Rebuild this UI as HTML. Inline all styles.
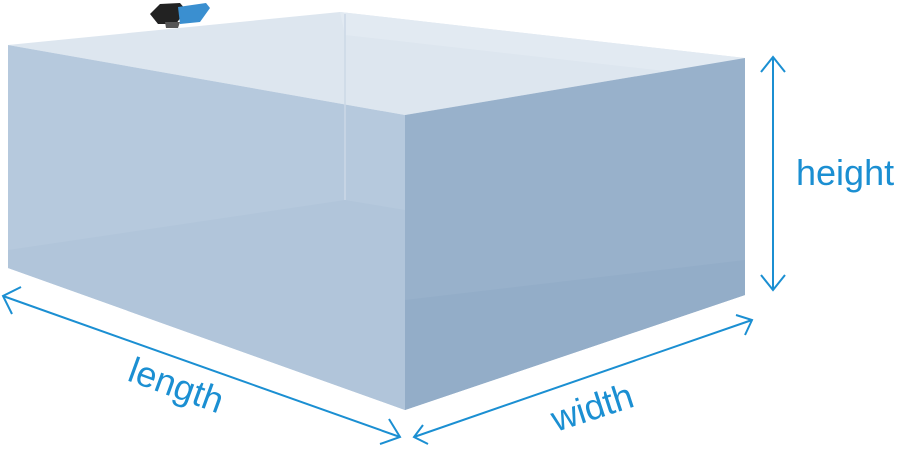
<!DOCTYPE html>
<html><head><style>
html,body{margin:0;padding:0;background:#fff;width:900px;height:449px;overflow:hidden}
text{font-family:"Liberation Sans",sans-serif;fill:#1b8fd2;font-size:36px}
</style></head><body>
<svg width="900" height="449" viewBox="0 0 900 449">
<polygon points="8,45 340,12 745,58 405,115" fill="#dde6ef"/>
<polygon points="340,12 745,58 745,80 345,35" fill="#e2eaf2"/>
<polygon points="8,45 405,115 405,410 8,268" fill="#b6c9dd"/>
<polygon points="8,250 345,200 405,210 405,410 8,268" fill="#b1c5da"/>
<polygon points="405,115 745,58 745,295 405,410" fill="#98b1cb"/>
<polygon points="405,300 745,260 745,295 405,410" fill="#93adc8"/>
<line x1="345" y1="14" x2="345" y2="200" stroke="#cbd8e6" stroke-width="1.5"/>
<g>
<polygon points="150,14 160,4 180,3 186,10 176,24 158,24" fill="#222"/>
<polygon points="178,7 206,3 210,8 200,22 180,24" fill="#3a8fd0"/>
<polygon points="165,22 180,22 178,28 166,28" fill="#555"/>
</g>
<g stroke="#1b8fd2" stroke-width="2" fill="none">
<line x1="3" y1="296" x2="400" y2="437"/>
<polyline points="21,287 3,296 12,314"/>
<polyline points="389,419 400,437 380,444"/>
<line x1="414" y1="437" x2="752" y2="320"/>
<polyline points="423,425 414,437 428,444"/>
<polyline points="736,315 752,320 745,335"/>
<line x1="773" y1="57" x2="773" y2="290"/>
<polyline points="761,72 773,57 785,72"/>
<polyline points="761,275 773,290 785,275"/>
</g>
<text x="126" y="380" transform="rotate(20 126 380)">length</text>
<text x="556" y="432" transform="rotate(-18 556 432)">width</text>
<text x="796" y="185">height</text>
</svg>
</body></html>
